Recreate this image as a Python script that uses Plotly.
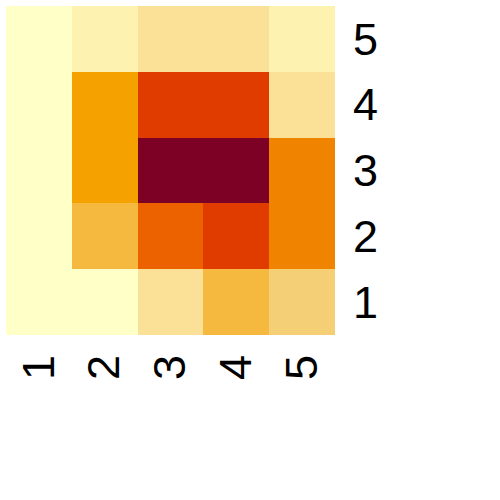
import plotly.graph_objects as go

x_labels = ["1", "2", "3", "4", "5"]
y_labels = ["1", "2", "3", "4", "5"]

# rows bottom (y=1) to top (y=5); values are colour levels
z_values = [
    [0, 0, 2, 4, 3],
    [0, 4, 7, 8, 6],
    [0, 5, 9, 9, 6],
    [0, 5, 8, 8, 2],
    [0, 1, 2, 2, 1],
]

level_colors = ["#FFFFC8", "#FEF2B1", "#FAE197", "#F5CF75", "#F6B93F",
                "#F5A200", "#F08400", "#EC6200", "#E03C00", "#7D0025"]

n = len(level_colors)
colorscale = []
for i, c in enumerate(level_colors):
    colorscale.append([i / n, c])
    colorscale.append([(i + 1) / n, c])

fig = go.Figure(go.Heatmap(
    z=z_values, x=x_labels, y=y_labels,
    colorscale=colorscale, zmin=-0.5, zmax=n - 0.5,
    showscale=False, xgap=0, ygap=0, hoverinfo="skip",
))

font = dict(family="Liberation Sans, Arial, sans-serif", size=45, color="black")
fig.update_layout(
    width=500, height=500,
    margin=dict(l=6, r=165, t=6, b=165),
    paper_bgcolor="white", plot_bgcolor="white",
    xaxis=dict(tickangle=-90, tickfont=font, showgrid=False, zeroline=False,
               ticks="outside", ticklen=1, tickcolor="rgba(0,0,0,0)", type="category"),
    yaxis=dict(side="right", tickfont=font, showgrid=False, zeroline=False,
               ticks="outside", ticklen=8, tickcolor="rgba(0,0,0,0)", type="category"),
)
fig.write_html("out.html", config={"displayModeBar": False},
               post_script="document.body.style.margin='0px';")
